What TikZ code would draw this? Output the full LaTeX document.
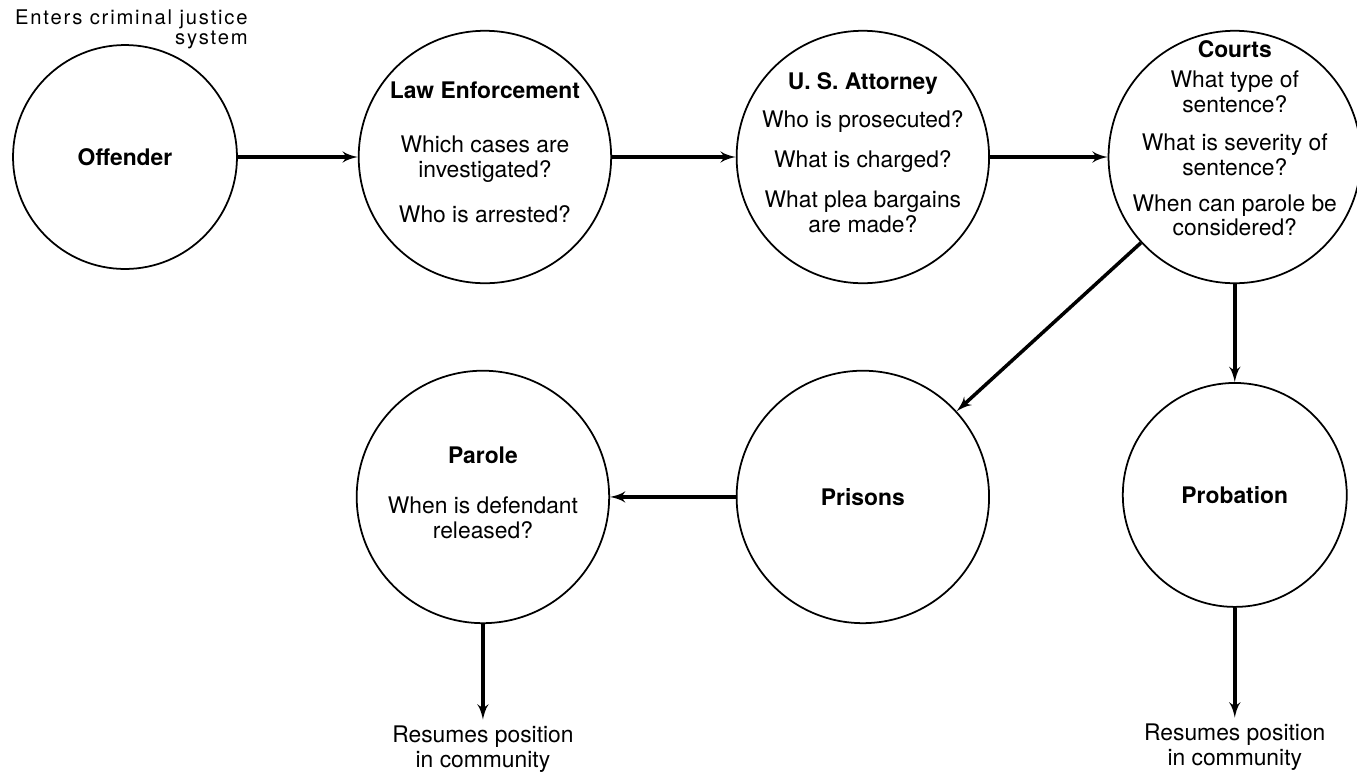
\documentclass[tikz,border=0pt]{standalone}
\usepackage{fontspec}
\setmainfont{TeX Gyre Heros}
\usepackage{tikz}
\usetikzlibrary{shapes,arrows,positioning}
\tikzstyle{stage} = [circle, draw, line width=1pt, inner sep=0pt,
    minimum size=5.05cm, font=\fontsize{13}{14}\selectfont]
\tikzstyle{smallstage} = [stage, minimum size=4.48cm]
\tikzstyle{ask} = [align=center, inner sep=0pt, font=\fontsize{13}{14}\selectfont]
\tikzstyle{note} = [align=center, font=\fontsize{13}{14}\selectfont]
\tikzstyle{line} = [draw, line width=2pt, -latex']

\begin{document}
\begin{tikzpicture}[x=0.02cm, y=-0.02cm]
    \useasboundingbox (0,0) rectangle (1357,775);
    % Place nodes
    \node [smallstage] (offender) at (125,157) {\textbf{Offender}};
    \node [stage, right of=offender, node distance=7.2cm] (lawenf) {};
    \node [stage, right of=lawenf, node distance=7.56cm] (attorney) {};
    \node [stage, right of=attorney, node distance=7.44cm] (courts) {};
    \node [stage, below of=attorney, node distance=6.8cm] (prisons) {\textbf{Prisons}};
    \node [stage, left of=prisons, node distance=7.6cm] (parole) {};
    \node [smallstage, below of=courts, node distance=6.76cm] (probation) {\textbf{Probation}};
    % Questions inside the circles
    \node [ask, yshift=0.1cm] (lawenfq) at (lawenf) {\textbf{Law Enforcement}\\[0.6cm]
        Which cases are\\investigated?\\[0.4cm]Who is arrested?};
    \node [ask, yshift=0.09cm] (attorneyq) at (attorney) {\textbf{U. S. Attorney}\\[0.27cm]
        Who is prosecuted?\\[0.31cm]What is charged?\\[0.31cm]What plea bargains\\are made?};
    \node [ask, yshift=0.37cm] (courtsq) at (courts) {\textbf{Courts}\\[0.11cm]
        What type of\\sentence?\\[0.27cm]What is severity of\\sentence?\\[0.23cm]
        When can parole be\\considered?};
    \node [ask, yshift=0.08cm] (paroleq) at (parole) {\textbf{Parole}\\[0.51cm]
        When is defendant\\released?};
    % Texts outside
    \node [align=right, anchor=north east, inner sep=0pt,
        font=\fontsize{11.5}{11.4}\selectfont\addfontfeature{LetterSpace=9}]
        (enters) at (248,9) {Enters criminal justice\\system};
    \node [note, below of=parole, node distance=5.04cm] (resume1) {Resumes position\\in community};
    \node [note, below of=probation, node distance=5.04cm] (resume2) {Resumes position\\in community};
    % Draw edges
    \path [line] (offender) -- (lawenf);
    \path [line] (lawenf) -- (attorney);
    \path [line] (attorney) -- (courts);
    \path [line] (courts) -- (prisons);
    \path [line] (courts) -- (probation);
    \path [line] (prisons) -- (parole);
    \path [line] (parole) -- (resume1);
    \path [line] (probation) -- (resume2);
\end{tikzpicture}
\end{document}
